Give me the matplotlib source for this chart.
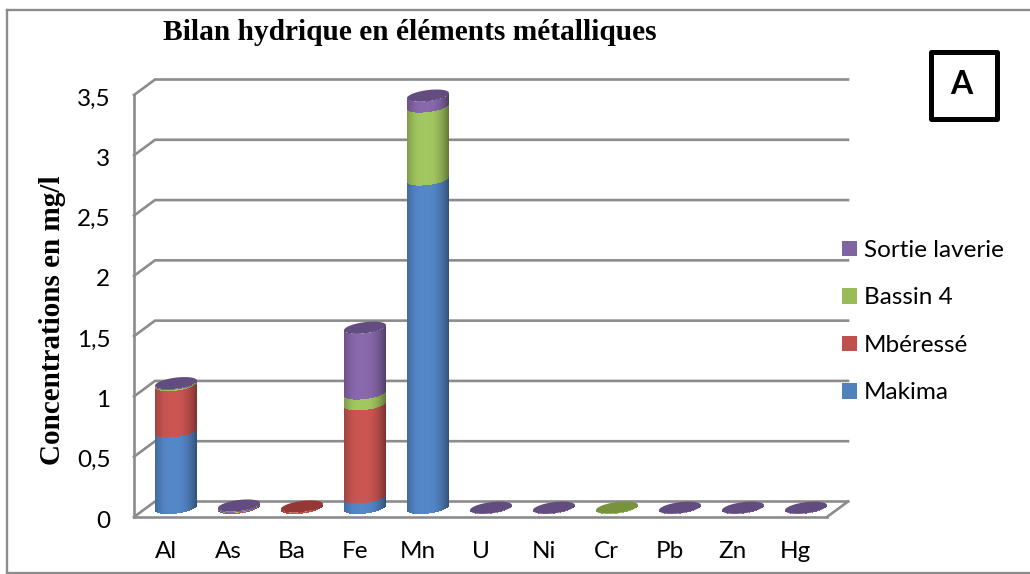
import numpy as np
import matplotlib
matplotlib.use("Agg")
import matplotlib.pyplot as plt
from matplotlib.lines import Line2D
from matplotlib.patches import Rectangle, Patch
from matplotlib.colors import to_rgb
from matplotlib.transforms import ScaledTranslation

categories = ["Al", "As", "Ba", "Fe", "Mn", "U", "Ni", "Cr", "Pb", "Zn", "Hg"]
makima = [0.635, 0.003, 0.0, 0.09, 2.725, 0.0, 0.0, 0.0, 0.0, 0.0, 0.0]
mberesse = [0.385, 0.006, 0.012, 0.77, 0.0, 0.0, 0.0, 0.0, 0.0, 0.0, 0.0]
bassin4 = [0.01, 0.003, 0.0, 0.09, 0.605, 0.0, 0.0, 0.003, 0.0, 0.0, 0.0]
sortie = [0.005, 0.008, 0.0, 0.545, 0.09, 0.002, 0.002, 0.0, 0.002, 0.002, 0.002]
series_names = ["Makima", "Mbéressé", "Bassin 4", "Sortie laverie"]
y_ticks = [0, 0.5, 1, 1.5, 2, 2.5, 3, 3.5]
y_tick_labels = ["0", "0,5", "1", "1,5", "2", "2,5", "3", "3,5"]

W, H = 1030, 574
SANS = "Lato"
SERIF = "Liberation Serif"
GRID = "#8c8c8c"
body_colors = ["#5487C8", "#CC5552", "#A3C760", "#8968AC"]
legend_colors = ["#4F81BD", "#C0504D", "#9BBB59", "#8064A2"]
top_colors = ["#3A6595", "#953735", "#77933C", "#634C7F"]

fig = plt.figure(figsize=(W / 100, H / 100), dpi=100, facecolor="white")
L, R, T, B = 134, 827, 95, 517
ax = fig.add_axes([L / W, 1 - B / H, (R - L) / W, (B - T) / H])
ax.set_xlim(-0.5, 10.5)
ax.set_ylim(0, 3.5)
px_x = (R - L) / 11
px_y = (B - T) / 3.5
back_dx = 21 / px_x
back_dy = 15.5 / px_y

for s in ["top", "right"]:
    ax.spines[s].set_visible(False)
for s in ["left", "bottom"]:
    ax.spines[s].set_color(GRID)
    ax.spines[s].set_linewidth(1.9)

ax.set_xticks(range(len(categories)))
ax.set_xticklabels(categories, fontfamily=SANS, fontsize=17.5)
ax.set_yticks(y_ticks)
ax.set_yticklabels(y_tick_labels, fontfamily=SANS, fontsize=17.5)
ax.tick_params(axis="both", length=0, colors="black")
ax.tick_params(axis="y", pad=17)
ax.tick_params(axis="x", pad=17)
shift = ScaledTranslation(0, -2 / 100, fig.dpi_scale_trans)
for lab in ax.get_yticklabels():
    lab.set_transform(lab.get_transform() + shift)

for v in y_ticks:
    ax.plot([-0.5, -0.5 + back_dx, 10.5 + back_dx], [v, v + back_dy, v + back_dy],
            color=GRID, lw=1.9, clip_on=False, zorder=1, solid_joinstyle="miter")
ax.plot([10.5, 10.5 + back_dx], [0, back_dy], color=GRID, lw=1.9, clip_on=False, zorder=1)

# cylinders
base_off = 9 / px_y
half_w = 21 / px_x
tilt = 0.12
minor = 5.6
n_strips = 44
edges = np.linspace(-1, 1, n_strips + 1)
centers = (edges[:-1] + edges[1:]) / 2
strip_w = (edges[1] - edges[0]) * half_w


def lower_edge(t):
    return (-minor * np.sqrt(1 - t ** 2) + tilt * 21 * t) / px_y


def shade(t):
    return 1 - 0.42 * np.abs((t + 0.12) / 1.12) ** 2.6


stack = np.array([makima, mberesse, bassin4, sortie])
for i in range(len(categories)):
    cx = i + back_dx / 2
    v0 = 0.0
    last = None
    for k in range(4):
        h = stack[k, i]
        if h <= 0:
            continue
        rgb = np.array(to_rgb(body_colors[k]))
        cols = [tuple(rgb * shade(t)) for t in centers]
        ax.bar(cx + centers * half_w, np.full(n_strips, h), width=strip_w * 1.35,
               bottom=v0 + base_off + lower_edge(centers), color=cols,
               linewidth=0, zorder=3 + k * 0.1, clip_on=False)
        v0 += h
        last = k
    th = np.linspace(0, 2 * np.pi, 120)
    ex = cx + half_w * np.cos(th)
    ey = v0 + base_off + (minor * np.sin(th) + tilt * 21 * np.cos(th)) / px_y
    ax.fill(ex, ey, color=top_colors[last], lw=0, zorder=4, clip_on=False)

# outer frame
for xs, ys in [((6.5, 6.5), (10, 573)), ((6.5, 1030), (10, 10)), ((6.5, 1030), (573, 573))]:
    fig.add_artist(Line2D([x / W for x in xs], [1 - y / H for y in ys], color=GRID, lw=1.7))

fig.text(410 / W, 1 - 32 / H, "Bilan hydrique en éléments métalliques", family=SERIF,
         weight="bold", fontsize=21.2, ha="center", va="center")
fig.text(52 / W, 1 - 320 / H, "Concentrations en mg/l", family=SERIF, weight="bold",
         fontsize=21, rotation=90, ha="center", va="center")

fig.add_artist(Rectangle((930.5 / W, 1 - 119 / H), 66 / W, 67.5 / H, transform=fig.transFigure,
                         fill=False, ec="black", lw=3.6, joinstyle="round"))
fig.text(961 / W, 1 - 85 / H, "A", family=SANS, weight="bold", fontsize=23, ha="center", va="center")

handles = [Patch(color=c, label=n, lw=0) for c, n in zip(legend_colors[::-1], series_names[::-1])]
fig.legend(handles=handles, loc="upper left", bbox_to_anchor=(842 / W, 1 - 240 / H),
           frameon=False, prop={"family": SANS, "size": 17.5}, handlelength=0.62, handleheight=0.62,
           handletextpad=0.29, labelspacing=1.09, borderpad=0, borderaxespad=0)

fig.savefig("out.png", dpi=100)
